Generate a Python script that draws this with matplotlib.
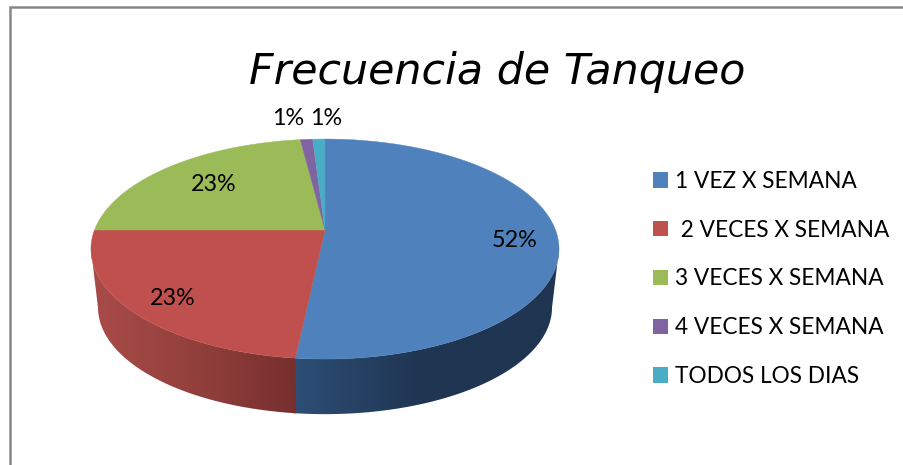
"""Frecuencia de Tanqueo: Excel-style 3D pie, drawn in pixel coordinates."""
import numpy as np
import matplotlib
matplotlib.use("Agg")
import matplotlib.pyplot as plt
from matplotlib.colors import LinearSegmentedColormap
from matplotlib.patches import Patch, Polygon, Rectangle

categories = ["1 VEZ X SEMANA", " 2 VECES X SEMANA", "3 VECES X SEMANA",
              "4 VECES X SEMANA", "TODOS LOS DIAS"]
values = [51.7, 23.3, 23.0, 1.0, 1.0]
colors = ["#4f81bd", "#c0504d", "#9bbb59", "#8064a2", "#4bacc6"]
title = "Frecuencia de Tanqueo"

# projection of the pie disc, fitted on the picture (pixels)
CX, APEX_Y = 325.0, 230.0
A, B, K = 230.5, 106.7, 0.173
SIDE_SCALE, SIDE_APEX_Y = 0.97, 289.0


def rim(angle_deg, lower=False):
    """Screen position of a rim point, angle clockwise from the top of the pie."""
    a = np.radians(angle_deg)
    w = 1 + K * np.cos(a)
    dx, dy = A * np.sin(a) / w, -B * np.cos(a) / w
    if lower:
        return np.column_stack([CX + SIDE_SCALE * dx, SIDE_APEX_Y + SIDE_SCALE * dy])
    return np.column_stack([CX + dx, APEX_Y + dy])


def draw_side(ax, a0, a1, x0, x1, stops, z):
    """Front wall between two angles, shaded left to right."""
    angles = np.linspace(a0, a1, 80)
    pts = np.vstack([rim(angles), rim(angles, lower=True)[::-1]])
    clip = Polygon(pts, closed=True, fc="none", ec="none", transform=ax.transData)
    ax.add_patch(clip)
    cmap = LinearSegmentedColormap.from_list("side", stops)
    grad = np.linspace(0, 1, 256).reshape(1, -1)
    im = ax.imshow(grad, cmap=cmap, extent=(x0, x1, 420, 240), aspect="auto", zorder=z)
    im.set_clip_path(clip)


fig = plt.figure(figsize=(9.04, 4.65), dpi=100)
ax = fig.add_axes([0, 0, 1, 1])

# chart frame
ax.add_patch(Rectangle((10, 7.5), 920, 480, fc="white", ec="#868686", lw=1.8, zorder=0))

ends = np.cumsum(values) * 3.6
starts = np.concatenate([[0], ends[:-1]])

# walls (only blue and red are visible from the front); blue runs under red to hide the seam
draw_side(ax, 100, ends[0] + 1, 285, 560,
          [(0, "#2e5078"), (0.5, "#1f3552"), (1, "#1f3552")], 2)
draw_side(ax, ends[0], 260, 90, 297,
          [(0, "#aa4c49"), (0.5, "#93403d"), (1, "#762f2d")], 2.1)

# top face
for s, e, c in zip(starts, ends, colors):
    angles = np.linspace(s, e, 120)
    pts = np.vstack([[CX, APEX_Y], rim(angles)])
    ax.add_patch(Polygon(pts, closed=True, fc=c, ec=c, lw=0.3, zorder=3))

# data labels
label_xy = [(515, 240), (173, 298), (214, 184), (288, 118), (326, 118)]
for v, (x, y) in zip(values, label_xy):
    ax.text(x, y, f"{v:.0f}%", ha="center", va="center", fontsize=16.8,
            family="Lato", color="black", zorder=4)

ax.text(497, 72, title, ha="center", va="center", fontsize=30.8,
        family="DejaVu Sans", style="italic", color="black")

handles = [Patch(fc=c, ec="none") for c in colors]
ax.legend(handles, categories, loc="upper left", bbox_to_anchor=(653 / 904, 1 - 171 / 465),
          frameon=False, prop={"family": "Lato", "size": 16.3}, labelspacing=1.225,
          handlelength=0.66, handleheight=0.66, handletextpad=0.31,
          borderpad=0, borderaxespad=0)

ax.set_xlim(0, 904)
ax.set_ylim(465, 0)
ax.axis("off")
fig.savefig("out.png", dpi=100)
